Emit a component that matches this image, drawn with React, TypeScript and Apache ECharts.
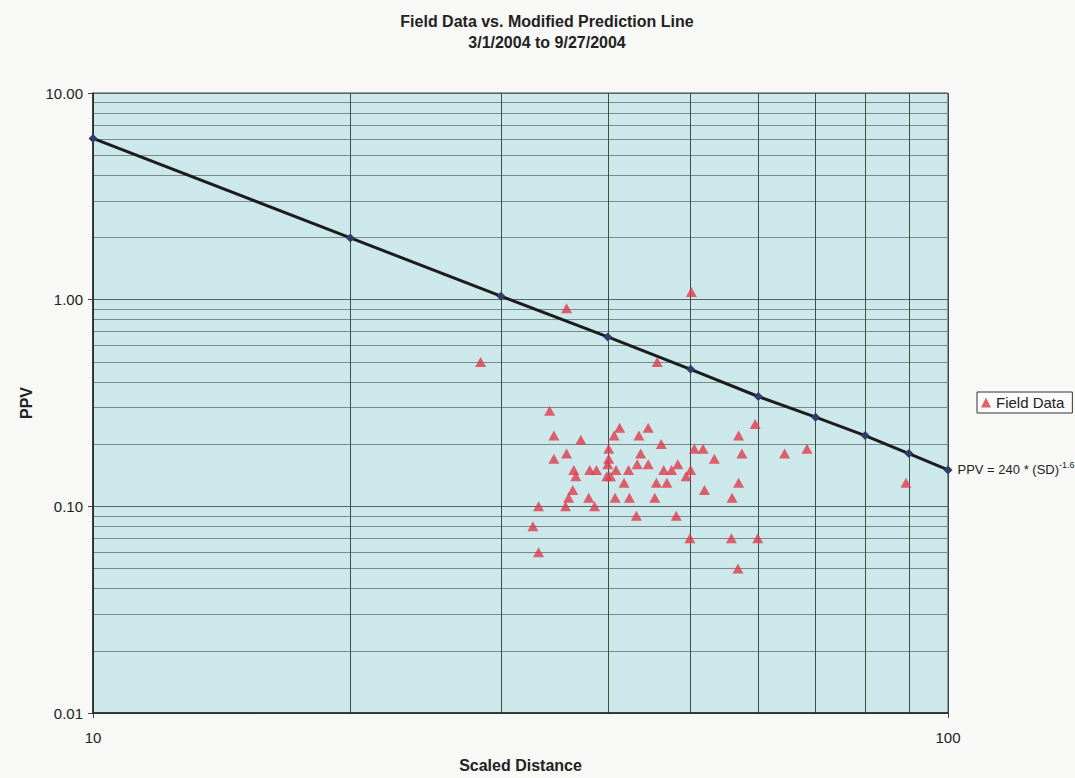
import React, { useEffect, useRef } from "react";
import * as echarts from "echarts";

// Prediction line: scaled distance and PPV
const lineSD = [10, 20, 30, 40, 50, 60, 70, 80, 90, 100];
const linePPV = [6.03, 1.99, 1.04, 0.66, 0.46, 0.34, 0.27, 0.22, 0.18, 0.15];

// Field data (scaled distance, PPV)
const fieldSD = [
  50.1, 35.8, 28.4, 45.7, 34.2, 59.5, 41.3, 44.6, 34.6, 40.7,
  43.5, 56.9, 37.2, 46.2, 40.1, 50.5, 51.7, 35.8, 43.7, 57.4,
  64.4, 34.6, 40.1, 53.3, 40.0, 43.3, 44.6, 48.3, 36.5, 38.1,
  38.8, 40.9, 42.3, 46.5, 47.5, 50.0, 36.7, 39.9, 40.3, 49.4,
  41.8, 45.6, 46.9, 56.9, 36.4, 51.9, 36.0, 38.0, 40.8, 42.4,
  45.4, 55.9, 33.2, 35.7, 38.6, 43.2, 48.1, 32.7, 49.9, 55.8,
  59.9, 33.2, 56.8, 68.4, 89.3,
];
const fieldPPV = [
  1.09, 0.91, 0.5, 0.5, 0.29, 0.25, 0.24, 0.24, 0.22, 0.22,
  0.22, 0.22, 0.21, 0.2, 0.19, 0.19, 0.19, 0.18, 0.18, 0.18,
  0.18, 0.17, 0.17, 0.17, 0.16, 0.16, 0.16, 0.16, 0.15, 0.15,
  0.15, 0.15, 0.15, 0.15, 0.15, 0.15, 0.14, 0.14, 0.14, 0.14,
  0.13, 0.13, 0.13, 0.13, 0.12, 0.12, 0.11, 0.11, 0.11, 0.11,
  0.11, 0.11, 0.1, 0.1, 0.1, 0.09, 0.09, 0.08, 0.07, 0.07,
  0.07, 0.06, 0.05, 0.19, 0.13,
];

const xMin = 10;
const xMax = 100;
const yMin = 0.01;
const yMax = 10;

const titleText = "Field Data vs. Modified Prediction Line\n3/1/2004 to 9/27/2004";
const equationMain = "PPV = 240 * (SD)";
const equationExp = "-1.6";

const FONT = "'Liberation Sans', Arial, sans-serif";

export default function App() {
  const ref = useRef<HTMLDivElement>(null);

  useEffect(() => {
    if (!ref.current) return;
    const chart = echarts.init(ref.current, null, { renderer: "svg" });

    const lineData = lineSD.map((x, i) => {
      const item: any = { value: [x, linePPV[i]] };
      if (i === lineSD.length - 1) {
        item.label = {
          show: true,
          position: "right",
          distance: 5,
          formatter: "{a|" + equationMain + "}{b|" + equationExp + "}",
          rich: {
            a: { fontFamily: FONT, fontSize: 13, color: "#222" },
            b: { fontFamily: FONT, fontSize: 9, color: "#222", padding: [0, 0, 10, 0] },
          },
        };
      }
      return item;
    });

    const option: any = {
      animation: false,
      backgroundColor: "#f8f8f6",
      textStyle: { fontFamily: FONT },
      title: {
        text: titleText,
        left: 542,
        top: 6,
        textAlign: "center",
        textStyle: {
          fontFamily: FONT,
          fontSize: 16,
          fontWeight: "bold",
          color: "#222",
          lineHeight: 21,
        },
      },
      legend: {
        data: [{ name: "Field Data", icon: "triangle" }],
        left: 977,
        top: 392,
        orient: "vertical",
        backgroundColor: "#fbfbfb",
        borderColor: "#333",
        borderWidth: 1,
        borderRadius: 0,
        padding: [3, 8, 3, 4],
        itemWidth: 10,
        itemHeight: 10,
        itemGap: 4,
        textStyle: { fontFamily: FONT, fontSize: 15, color: "#222" },
      },
      grid: {
        left: 93,
        top: 93,
        width: 855,
        height: 620,
        show: true,
        backgroundColor: "#cce8eb",
        borderColor: "#444",
        borderWidth: 1,
      },
      xAxis: {
        type: "log",
        logBase: 10,
        min: xMin,
        max: xMax,
        name: "Scaled Distance",
        nameLocation: "middle",
        nameGap: 44,
        nameTextStyle: { fontFamily: FONT, fontSize: 16, fontWeight: "bold", color: "#222" },
        axisLine: { show: true, lineStyle: { color: "#222", width: 1.5 } },
        axisTick: { show: true, inside: false, length: 5, lineStyle: { color: "#444" } },
        axisLabel: { fontFamily: FONT, fontSize: 15, color: "#222", margin: 17 },
        splitLine: { show: true, lineStyle: { color: "#3d5048", width: 1 } },
        minorTick: { show: false, splitNumber: 9 },
        minorSplitLine: { show: true, lineStyle: { color: "#3d5048", width: 1 } },
      },
      yAxis: {
        type: "log",
        logBase: 10,
        min: yMin,
        max: yMax,
        name: "PPV",
        nameLocation: "middle",
        nameGap: 58,
        nameRotate: 90,
        nameTextStyle: { fontFamily: FONT, fontSize: 16, fontWeight: "bold", color: "#222" },
        axisLine: { show: true, lineStyle: { color: "#222", width: 1.5 } },
        axisTick: { show: true, inside: false, length: 5, lineStyle: { color: "#444" } },
        axisLabel: {
          fontFamily: FONT,
          fontSize: 15,
          color: "#222",
          margin: 10,
          formatter: (v: number) => v.toFixed(2),
        },
        splitLine: { show: true, lineStyle: { color: "#55655f", width: 1 } },
        minorTick: { show: false, splitNumber: 9 },
        minorSplitLine: { show: true, lineStyle: { color: "#7a8a86", width: 1 } },
      },
      series: [
        {
          name: "Prediction",
          type: "line",
          data: lineData,
          symbol: "diamond",
          symbolSize: 9,
          showAllSymbol: true,
          itemStyle: { color: "#2f3d6b" },
          lineStyle: { color: "#1c1c1c", width: 3 },
          z: 3,
        },
        {
          name: "Field Data",
          type: "scatter",
          data: fieldSD.map((x, i) => [x, fieldPPV[i]]),
          symbol: "triangle",
          symbolSize: [11, 10],
          itemStyle: { color: "#e03a4c" },
          z: 4,
        },
      ],
    };

    chart.setOption(option);
    return () => chart.dispose();
  }, []);

  return (
    <div
      ref={ref}
      style={{ position: "fixed", left: 0, top: 0, width: 1075, height: 778 }}
    />
  );
}
